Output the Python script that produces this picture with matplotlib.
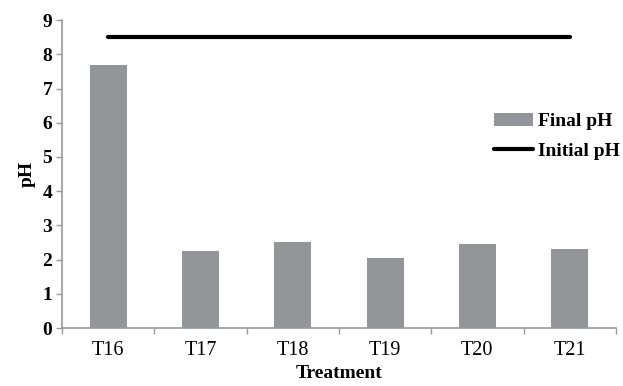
import matplotlib
matplotlib.use("Agg")
import matplotlib.pyplot as plt
import matplotlib.patches as mpatches
from matplotlib.legend_handler import HandlerPatch
import numpy as np

treatments = ["T16", "T17", "T18", "T19", "T20", "T21"]
final_ph = [7.70, 2.26, 2.52, 2.06, 2.46, 2.32]
initial_ph = [8.5, 8.5, 8.5, 8.5, 8.5, 8.5]

plt.rcParams["font.family"] = ["Liberation Serif", "DejaVu Serif"]
FS = 14


def thin_bar(legend, orig, xdescent, ydescent, width, height, fontsize):
    # flatter legend swatch than the default patch
    h = height * 0.6
    return mpatches.Rectangle((-xdescent, -ydescent + (height - h) / 2), width, h)


fig = plt.figure(figsize=(6.23, 3.86), dpi=100)
ax = fig.add_axes([0.0995, 0.150, 0.889, 0.798])

x = np.arange(len(treatments))
bars = ax.bar(x, final_ph, width=0.4, color="#939598", label="Final pH", zorder=2)
line, = ax.plot(x, initial_ph, color="black", lw=3, solid_capstyle="round",
                label="Initial pH", zorder=3)

ax.set_xlim(-0.5, len(treatments) - 0.5)
ax.set_ylim(0, 9)
ax.set_yticks(range(0, 10))
ax.set_yticklabels([str(v) for v in range(0, 10)], fontweight="bold", fontsize=FS)
ax.set_xticks(x)
ax.set_xticklabels(treatments, fontsize=14.5)
ax.set_xticks(np.arange(-0.5, len(treatments)), minor=True)
ax.tick_params(axis="x", which="major", length=0, pad=9)
ax.tick_params(axis="x", which="minor", length=4, color="#999999", width=1)
ax.tick_params(axis="y", length=4, color="#999999", width=1, pad=3)

for side in ("top", "right"):
    ax.spines[side].set_visible(False)
for side in ("left", "bottom"):
    ax.spines[side].set_color("#999999")
    ax.spines[side].set_linewidth(1.2)

ax.set_xlabel("Treatment", fontweight="bold", fontsize=FS, labelpad=4)
ax.set_ylabel("pH", fontweight="bold", fontsize=FS, labelpad=5)

ax.legend([bars, line], ["Final pH", "Initial pH"],
          loc="center left", bbox_to_anchor=(0.763, 0.623), frameon=False,
          prop={"weight": "bold", "size": FS}, handlelength=2.0, handletextpad=0.25,
          labelspacing=0.6, borderpad=0,
          handler_map={mpatches.Rectangle: HandlerPatch(patch_func=thin_bar)})

fig.savefig("out.png", dpi=100)
